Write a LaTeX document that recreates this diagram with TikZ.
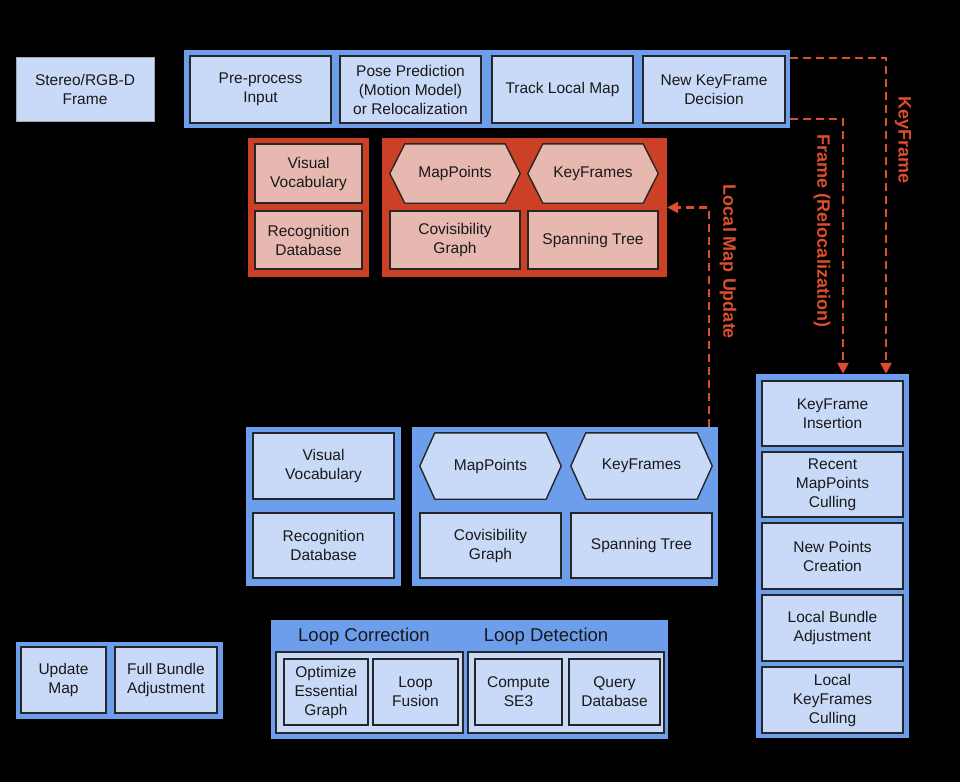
\documentclass[tikz,border=0pt]{standalone}
\usepackage{fontspec}
\setmainfont{Liberation Sans}
\usetikzlibrary{arrows.meta}
\definecolor{mblue}{RGB}{109,158,235}
\definecolor{lblue}{RGB}{201,218,248}
\definecolor{redc}{RGB}{204,65,37}
\definecolor{pinkc}{RGB}{230,184,175}
\definecolor{dashred}{RGB}{220,78,45}
\definecolor{txt}{RGB}{25,25,25}
\pgfdeclarelayer{bg}
\pgfdeclarelayer{mid}
\pgfsetlayers{bg,mid,main}
\tikzset{
  base/.style={align=center, inner sep=1pt, text=txt, font=\fontsize{15.5}{19}\selectfont},
  box/.style={base, draw=black!85, line width=1.4pt, fill=lblue},
  pbox/.style={box, fill=pinkc},
  hexlabel/.style={base, draw=none, fill=none},
  hexshape/.style={draw=black!85, line width=1.4pt, line join=round},
  bluecont/.style={fill=mblue, draw=none, inner sep=0pt},
  redcont/.style={fill=redc, draw=none, inner sep=0pt},
  innercont/.style={draw=black!85, line width=1.4pt, fill=lblue, inner sep=0pt},
  flow/.style={draw=dashred, line width=2.4pt, dash pattern=on 8pt off 5pt, -{Triangle[length=11pt,width=11pt]}},
  flowlabel/.style={text=dashred, font=\bfseries\fontsize{18}{20}\selectfont, rotate=-90, inner sep=0pt},
  grouptitle/.style={text=txt, font=\fontsize{18.5}{21}\selectfont, inner sep=0pt}
}
\newcommand{\hexof}[2]{\path[hexshape,fill=#2] (#1.west) -- ([xshift=15pt]#1.north west) -- ([xshift=-15pt]#1.north east) -- (#1.east) -- ([xshift=-15pt]#1.south east) -- ([xshift=15pt]#1.south west) -- cycle;}
\begin{document}
\begin{tikzpicture}[x=1pt,y=-1pt]
\useasboundingbox (0,0) rectangle (960,782);

% containers
\begin{pgfonlayer}{bg}
\fill[black] (0,0) rectangle (960,782);
\node[bluecont, minimum width=606pt, minimum height=78pt] (track) at (487,89) {};
\node[redcont, minimum width=121pt, minimum height=139pt] (rl) at (308.5,207.5) {};
\node[redcont, minimum width=285pt, minimum height=139pt] (rr) at (524.5,207.5) {};
\node[bluecont, minimum width=155pt, minimum height=159pt] (bl) at (323.5,506.5) {};
\node[bluecont, minimum width=306pt, minimum height=159pt] (br) at (565,506.5) {};
\node[bluecont, minimum width=207pt, minimum height=77pt] (gba) at (119.5,680.5) {};
\node[bluecont, minimum width=397pt, minimum height=119pt] (loop) at (469.5,679.5) {};
\node[bluecont, minimum width=153pt, minimum height=364pt] (lmcol) at (832.5,556) {};
\end{pgfonlayer}

% input frame
\node[box, draw=gray!70, line width=0.6pt, minimum width=138pt, minimum height=64pt] (frame) at (85,89) {Stereo/RGB-D\\Frame};

% tracking
\node[box, minimum width=141pt, minimum height=67pt] (pre) at (260.5,89.5) {Pre-process\\Input};
\node[box, minimum width=141pt, minimum height=67pt] (pose) at (410.5,89.5) {Pose Prediction\\(Motion Model)\\or Relocalization};
\node[box, minimum width=141pt, minimum height=67pt] (tlm) at (562.5,89.5) {Track Local Map};
\node[box, minimum width=142pt, minimum height=67pt] (nkf) at (714,89.5) {New KeyFrame\\Decision};

% red map
\node[pbox, minimum width=107pt, minimum height=59pt] (vv1) at (308.5,173.5) {Visual\\Vocabulary};
\node[pbox, minimum width=107pt, minimum height=58pt] (rd1) at (308.5,240) {Recognition\\Database};
\node[hexlabel, minimum width=130pt, minimum height=59pt] (mp1) at (455,173.5) {MapPoints};
\node[hexlabel, minimum width=130pt, minimum height=59pt] (kf1) at (593,173.5) {KeyFrames};
\node[pbox, minimum width=130pt, minimum height=58pt] (cg1) at (455,240) {Covisibility\\Graph};
\node[pbox, minimum width=130pt, minimum height=58pt] (st1) at (593,240) {Spanning Tree};

% blue map
\node[box, minimum width=141pt, minimum height=66pt] (vv2) at (323.5,466) {Visual\\Vocabulary};
\node[box, minimum width=141pt, minimum height=65pt] (rd2) at (323.5,545.5) {Recognition\\Database};
\node[hexlabel, minimum width=141pt, minimum height=66pt] (mp2) at (490.5,466) {MapPoints};
\node[hexlabel, minimum width=141pt, minimum height=66pt] (kf2) at (641.5,466) {KeyFrames};
\node[box, minimum width=141pt, minimum height=65pt] (cg2) at (490.5,545.5) {Covisibility\\Graph};
\node[box, minimum width=141pt, minimum height=65pt] (st2) at (641.5,545.5) {Spanning Tree};

\begin{pgfonlayer}{mid}
\hexof{mp1}{pinkc}
\hexof{kf1}{pinkc}
\hexof{mp2}{lblue}
\hexof{kf2}{lblue}
\node[innercont, minimum width=187pt, minimum height=81pt] (lcin) at (369.5,692.5) {};
\node[innercont, minimum width=196pt, minimum height=81pt] (ldin) at (566,692.5) {};
\end{pgfonlayer}

% global BA
\node[box, minimum width=85pt, minimum height=66pt] (um) at (63.5,680) {Update\\Map};
\node[box, minimum width=102pt, minimum height=66pt] (fba) at (166,680) {Full Bundle\\Adjustment};

% loop closing
\node[grouptitle] (lct) at (364,637) {Loop Correction};
\node[grouptitle] (ldt) at (546,637) {Loop Detection};
\node[box, minimum width=84pt, minimum height=66pt] (oeg) at (326,692) {Optimize\\Essential\\Graph};
\node[box, minimum width=85pt, minimum height=66pt] (lf) at (415.5,692) {Loop\\Fusion};
\node[box, minimum width=87pt, minimum height=66pt] (se3) at (518.5,692) {Compute\\SE3};
\node[box, minimum width=91pt, minimum height=66pt] (qd) at (614.5,692) {Query\\Database};

% local mapping
\node[box, minimum width=141pt, minimum height=65pt] (kfi) at (832.5,413.5) {KeyFrame\\Insertion};
\node[box, minimum width=141pt, minimum height=65pt] (rmc) at (832.5,484.5) {Recent\\MapPoints\\Culling};
\node[box, minimum width=141pt, minimum height=66pt] (npc) at (832.5,556) {New Points\\Creation};
\node[box, minimum width=141pt, minimum height=66pt] (lba) at (832.5,628) {Local Bundle\\Adjustment};
\node[box, minimum width=141pt, minimum height=66pt] (lkc) at (832.5,700) {Local\\KeyFrames\\Culling};

% connectors
\coordinate (kfs) at ([yshift=-8pt]track.north east);
\coordinate (frs) at ([yshift=9pt]track.south east);
\coordinate (kfx) at (886,0);
\coordinate (frx) at (843,0);
\coordinate (lmx) at (709,0);
\draw[flow] (kfs) -| (kfx |- lmcol.north);
\draw[flow] (frs) -| (frx |- lmcol.north);
\draw[flow] (lmx |- br.north) |- (rr.east);

\node[flowlabel] (kfl) at (903,140) {KeyFrame};
\node[flowlabel] (frl) at (822,231) {Frame (Relocalization)};
\node[flowlabel] (lml) at (728,262) {Local Map Update};
\end{tikzpicture}
\end{document}
